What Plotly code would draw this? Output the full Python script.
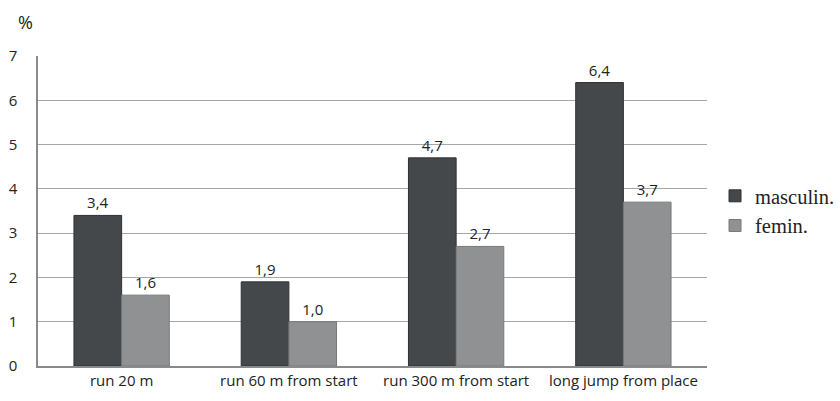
import plotly.graph_objects as go

categories = ["run 20 m", "run 60 m from start", "run 300 m from start", "long jump from place"]
masculin = [3.4, 1.9, 4.7, 6.4]
femin = [1.6, 1.0, 2.7, 3.7]
y_ticks = [0, 1, 2, 3, 4, 5, 6, 7]

label_font = dict(family="Open Sans", size=15, color="#222222")

fig = go.Figure()
fig.add_trace(go.Bar(
    name="masculin.", x=categories, y=masculin,
    marker=dict(color="#45484a", line=dict(color="#2f3133", width=1)),
    texttemplate="%{y:.1f}", textposition="outside",
    textfont=label_font, cliponaxis=False,
))
fig.add_trace(go.Bar(
    name="femin.", x=categories, y=femin,
    marker=dict(color="#8f9193", line=dict(color="#76787a", width=1)),
    texttemplate="%{y:.1f}", textposition="outside",
    textfont=label_font, cliponaxis=False,
))

fig.update_layout(
    width=840, height=401,
    margin=dict(l=38, r=133, t=56, b=35, autoexpand=False),
    paper_bgcolor="white", plot_bgcolor="white",
    separators=",.",
    barmode="group", bargap=0.43, bargroupgap=0,
    showlegend=True,
    legend=dict(
        x=1.012, y=0.50, xanchor="left", yanchor="middle",
        font=dict(family="Liberation Serif", size=20.5, color="#222222"),
        tracegroupgap=0,
        bgcolor="rgba(0,0,0,0)",
    ),
    xaxis=dict(
        showgrid=False, showline=True, linecolor="#8a8a8a", linewidth=1.5,
        tickfont=dict(family="Open Sans", size=15, color="#222222"),
        ticks="",
    ),
    yaxis=dict(
        range=[0, 7], tickvals=y_ticks, showgrid=True, gridcolor="#a6a6a6", gridwidth=1,
        showline=True, linecolor="#8a8a8a", linewidth=1.5,
        zeroline=False,
        tickfont=label_font,
        ticks="", ticklabelstandoff=16,
    ),
)
fig.add_annotation(
    text="%", xref="paper", yref="paper", x=-0.019, y=1.11,
    xanchor="center", yanchor="middle", showarrow=False,
    font=dict(family="Open Sans", size=18, color="#222222"),
)
fig.write_html("out.html")
